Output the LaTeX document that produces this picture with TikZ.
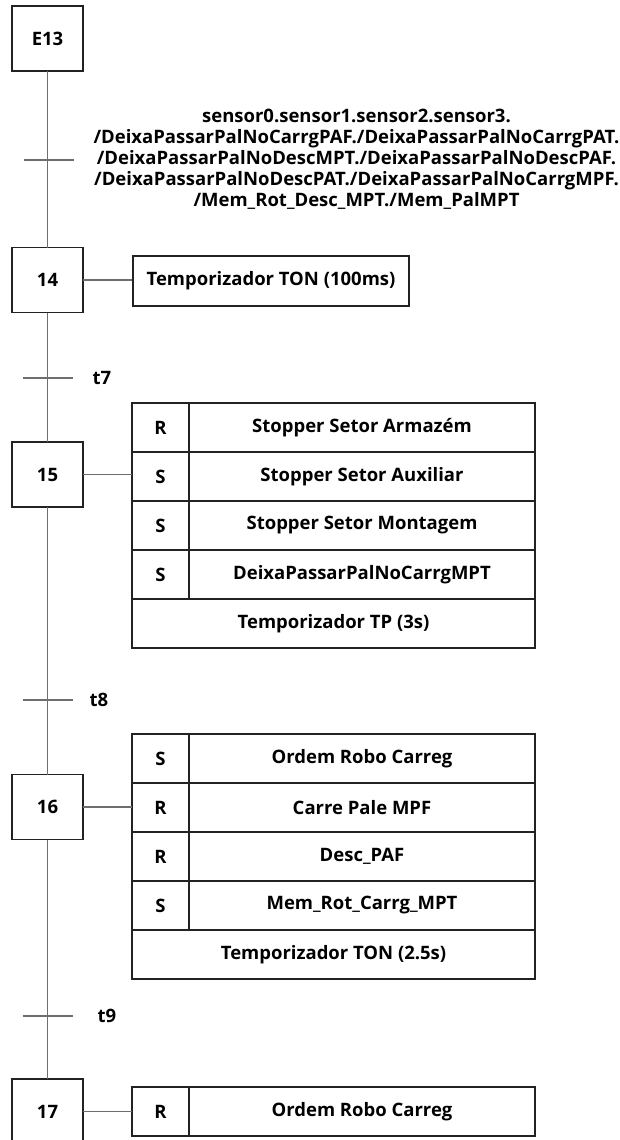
\documentclass[tikz,border=0pt]{standalone}
\usepackage{fontspec}
\setmainfont{Open Sans}
\usepackage{tikz}
\usetikzlibrary{positioning}
\definecolor{Borda}{HTML}{222222}
\definecolor{Liga}{HTML}{6E6E6E}

\begin{document}
\begin{tikzpicture}[x=1pt,y=-1pt,node distance=0pt,
    font=\fontsize{18.5}{21}\selectfont\bfseries,
    etapa/.style={draw=Borda,line width=1.5pt,minimum width=71pt,minimum height=65pt,inner sep=0pt,outer sep=0pt},
    qual/.style={draw=Borda,line width=1.5pt,minimum width=57pt,minimum height=49pt,inner sep=0pt,outer sep=0pt},
    acao/.style={draw=Borda,line width=1.5pt,minimum width=346pt,minimum height=49pt,inner sep=0pt,outer sep=0pt},
    temp/.style={draw=Borda,line width=1.5pt,minimum width=403pt,minimum height=49pt,inner sep=0pt,outer sep=0pt},
    liga/.style={draw=Liga,line width=1.3pt},
    rotulo/.style={anchor=west,inner sep=0pt}]
  \useasboundingbox (0,0) rectangle (619,1140);

  % etapas
  \node[etapa] (e13) at (47.5,38.5) {E13};
  \node[etapa] (e14) at (47.5,280) {14};
  \node[etapa] (e15) at (47.5,474.5) {15};
  \node[etapa] (e16) at (47.5,807) {16};
  \node[etapa] (e17) at (47.5,1111.5) {17};
  \draw[liga] (e13) -- (e14);
  \draw[liga] (e14) -- (e15);
  \draw[liga] (e15) -- (e16);
  \draw[liga] (e16) -- (e17);

  % transicoes
  \coordinate (tr13) at (47.5,160);
  \coordinate (tr7) at (47.5,378);
  \coordinate (tr8) at (47.5,700);
  \coordinate (tr9) at (47.5,1016);
  \draw[liga] ([xshift=-24pt]tr13) -- ([xshift=26pt]tr13);
  \draw[liga] ([xshift=-25pt]tr7) -- ([xshift=25pt]tr7);
  \draw[liga] ([xshift=-25pt]tr8) -- ([xshift=25pt]tr8);
  \draw[liga] ([xshift=-25pt]tr9) -- ([xshift=25pt]tr9);
  \node[align=center] (cond) at (356.5,159) {sensor0.sensor1.sensor2.sensor3.\\
    /DeixaPassarPalNoCarrgPAF./DeixaPassarPalNoCarrgPAT.\\
    /DeixaPassarPalNoDescMPT./DeixaPassarPalNoDescPAF.\\
    /DeixaPassarPalNoDescPAT./DeixaPassarPalNoCarrgMPF.\\
    /Mem\_Rot\_Desc\_MPT./Mem\_PalMPT};
  \node[rotulo] (lt7) at ([xshift=45pt]tr7) {t7};
  \node[rotulo] (lt8) at ([xshift=42pt]tr8) {t8};
  \node[rotulo] (lt9) at ([xshift=50pt]tr9) {t9};

  % acao da etapa 14
  \node[draw=Borda,line width=1.5pt,minimum width=276pt,minimum height=50pt,inner sep=0pt] (a14) at (271,281) {Temporizador TON (100ms)};
  \draw[liga] (e14.east) -- (e14.east -| a14.west);

  % acoes da etapa 15
  \node[qual,anchor=north west] (q15a) at (132,403) {R};
  \node[acao,right=of q15a] (a15a) {Stopper Setor Armazém};
  \node[qual,below=of q15a] (q15b) {S};
  \node[acao,right=of q15b] (a15b) {Stopper Setor Auxiliar};
  \node[qual,below=of q15b] (q15c) {S};
  \node[acao,right=of q15c] (a15c) {Stopper Setor Montagem};
  \node[qual,below=of q15c] (q15d) {S};
  \node[acao,right=of q15d] (a15d) {DeixaPassarPalNoCarrgMPT};
  \node[temp,anchor=north west] (tp15) at (q15d.south west) {Temporizador TP (3s)};
  \draw[liga] (e15.east) -- (e15.east -| q15b.west);

  % acoes da etapa 16
  \node[qual,anchor=north west] (q16a) at (132,734) {S};
  \node[acao,right=of q16a] (a16a) {Ordem Robo Carreg};
  \node[qual,below=of q16a] (q16b) {R};
  \node[acao,right=of q16b] (a16b) {Carre Pale MPF};
  \node[qual,below=of q16b] (q16c) {R};
  \node[acao,right=of q16c] (a16c) {Desc\_PAF};
  \node[qual,below=of q16c] (q16d) {S};
  \node[acao,right=of q16d] (a16d) {Mem\_Rot\_Carrg\_MPT};
  \node[temp,anchor=north west] (tp16) at (q16d.south west) {Temporizador TON (2.5s)};
  \draw[liga] (e16.east) -- (e16.east -| q16b.west);

  % acao da etapa 17
  \node[qual,anchor=north west] (q17a) at (132,1087) {R};
  \node[acao,right=of q17a] (a17a) {Ordem Robo Carreg};
  \draw[liga] (e17.east) -- (e17.east -| q17a.west);
\end{tikzpicture}
\end{document}
